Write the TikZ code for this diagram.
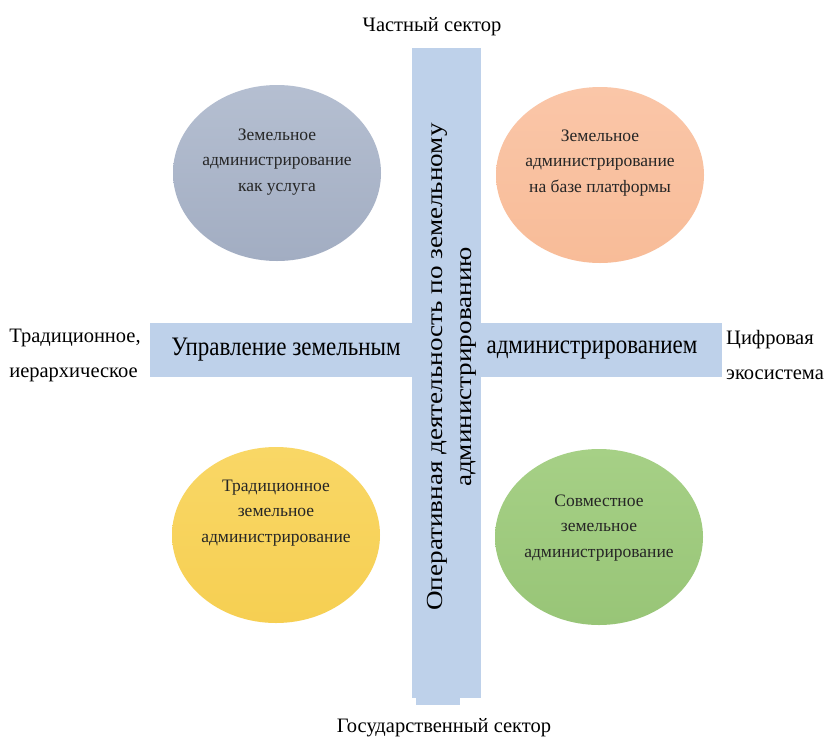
\documentclass[tikz,border=0pt]{standalone}
\usepackage{graphicx}
\usepackage{fontspec}
\setmainfont{Liberation Serif}
\usetikzlibrary{shapes.geometric}
\definecolor{barblue}{HTML}{BED1EA}
\definecolor{cgreyA}{HTML}{B5BFD1}
\definecolor{cgreyB}{HTML}{A2ADC2}
\definecolor{cpeachA}{HTML}{FAC6A8}
\definecolor{cpeachB}{HTML}{F8BC98}
\definecolor{cyellowA}{HTML}{F9D766}
\definecolor{cyellowB}{HTML}{F6CF52}
\definecolor{cgreenA}{HTML}{A6D086}
\definecolor{cgreenB}{HTML}{98C577}
\tikzset{
  oval/.style={ellipse, minimum width=208pt, minimum height=176pt, inner sep=0pt},
  ovaltext/.style={align=center, inner sep=0pt, font=\fontsize{17.5}{25.5}\selectfont, text=black!85},
  outlbl/.style={font=\fontsize{20.5}{35}\selectfont, inner sep=0pt},
  bartext/.style={font=\fontsize{23}{29}\selectfont, inner sep=0pt},
}
\begin{document}
\begin{tikzpicture}[x=1pt,y=-1pt]
\useasboundingbox (0,0) rectangle (827,740);
\fill[white] (0,0) rectangle (827,740);
% bars
\fill[barblue] (150,323) rectangle (722,377);
\fill[barblue] (412,48) rectangle (481,698);
\fill[barblue] (416,698) rectangle (460,705);
\node[bartext] (hl) at (286,350) {\scalebox{1}[1.16]{Управление земельным}};
\node[bartext] (hr) at (592,350) {\scalebox{1}[1.16]{администрированием}};
\node[bartext, rotate=90] (vt) at (451,367) {\scalebox{1.18}[1]{\begin{tabular}{@{}c@{}}Оперативная деятельность по земельному\\администрированию\end{tabular}}};
% ovals
\node[oval, top color=cgreyA, bottom color=cgreyB] (o1) at (277,173) {};
\node[oval, top color=cpeachA, bottom color=cpeachB] (o2) at (600,175) {};
\node[oval, top color=cyellowA, bottom color=cyellowB] (o3) at (276,535) {};
\node[oval, top color=cgreenA, bottom color=cgreenB] (o4) at (599,537) {};
\node[ovaltext] (t1) at ([yshift=11pt]o1.center) {Земельное\\администрирование\\как услуга};
\node[ovaltext] (t2) at ([yshift=12pt]o2.center) {Земельное\\администрирование\\на базе платформы};
\node[ovaltext] (t3) at ([yshift=22pt]o3.center) {Традиционное\\земельное\\администрирование};
\node[ovaltext] (t4) at ([yshift=9pt]o4.center) {Совместное\\земельное\\администрирование};
% outer labels
\node[outlbl] (top) at (432,27) {Частный сектор};
\node[outlbl] (bot) at (444,728) {Государственный сектор};
\node[outlbl, align=left] (lft) at (75,355) {Традиционное,\\иерархическое};
\node[outlbl, align=left, anchor=west] (rgt) at (726,355) {Цифровая\\экосистема};
\end{tikzpicture}
\end{document}
